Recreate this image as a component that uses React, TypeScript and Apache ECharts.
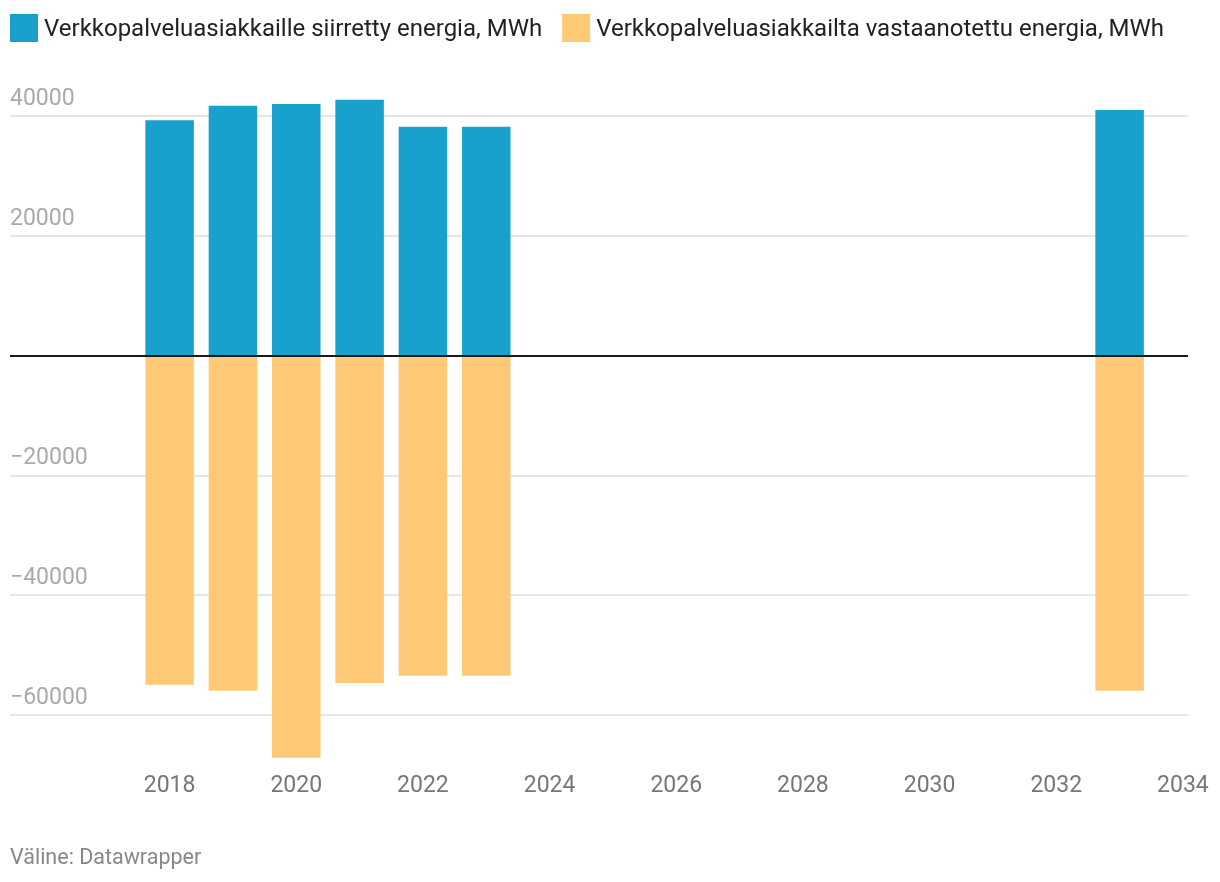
import React, { useEffect, useRef } from "react";
import * as echarts from "echarts";

const years = [2018, 2019, 2020, 2021, 2022, 2023, 2033];
const delivered = [39300, 41700, 42000, 42700, 38200, 38200, 41000];
const received = [-55000, -56000, -67200, -54700, -53500, -53500, -56000];
const xTicks = [2018, 2020, 2022, 2024, 2026, 2028, 2030, 2032, 2034];
const yTicks = [-60000, -40000, -20000, 20000, 40000];
const seriesNames = [
  "Verkkopalveluasiakkaille siirretty energia, MWh",
  "Verkkopalveluasiakkailta vastaanotettu energia, MWh",
];
const sourceText = "Väline: Datawrapper";

export default function App() {
  const ref = useRef<HTMLDivElement>(null);
  useEffect(() => {
    if (!ref.current) return;
    const chart = echarts.init(ref.current, null, { renderer: "svg" });
    const font = "Roboto";
    chart.setOption({
      animation: false,
      textStyle: { fontFamily: font },
      legend: {
        left: 10,
        top: 14,
        padding: 0,
        icon: "rect",
        itemWidth: 28,
        itemHeight: 28,
        itemGap: 20,
        textStyle: { fontFamily: font, fontSize: 24, color: "#222", padding: [0, 0, 0, 1] },
        data: seriesNames,
      },
      grid: { left: 10, right: 32, top: 86.1, bottom: 107.4, containLabel: false },
      xAxis: {
        type: "value",
        min: 2015.48,
        max: 2034.08,
        axisLine: { show: false },
        axisTick: { show: false, customValues: xTicks },
        splitLine: { show: false },
        axisLabel: {
          customValues: xTicks,
          fontFamily: font,
          fontSize: 23,
          color: "#777",
          margin: -2,
          verticalAlign: "top",
          formatter: (v: number) => String(v),
        },
      },
      yAxis: {
        type: "value",
        min: -70000,
        max: 45000,
        axisLine: { show: false },
        axisTick: { show: false, customValues: yTicks },
        splitLine: { show: true, lineStyle: { color: "#e6e6e6", width: 2 } },
        axisLabel: {
          customValues: yTicks,
          inside: true,
          margin: 0,
          fontFamily: font,
          fontSize: 23,
          color: "#aaa",
          verticalAlign: "bottom",
          padding: [0, 0, 7, 0],
          formatter: (v: number) => (v < 0 ? "\u2212" + Math.abs(v) : String(v)),
        },
      },
      series: [
        {
          name: seriesNames[0],
          type: "bar",
          barWidth: 48.5,
          barGap: "-100%",
          itemStyle: { color: "#18a1cd" },
          data: years.map((y, i) => [y, delivered[i]]),
        },
        {
          name: seriesNames[1],
          type: "bar",
          barWidth: 48.5,
          barGap: "-100%",
          itemStyle: { color: "#fdc977" },
          data: years.map((y, i) => [y, received[i]]),
          markLine: {
            silent: true,
            symbol: "none",
            label: { show: false },
            lineStyle: { color: "#1a1a1a", width: 2, type: "solid" },
            data: [{ yAxis: 0 }],
            z: 10,
          },
        },
      ],
      graphic: [
        {
          type: "text",
          left: 10,
          top: 845,
          style: { text: sourceText, fontFamily: font, fontSize: 21.5, fill: "#888" },
        },
      ],
    });
    return () => chart.dispose();
  }, []);
  return (
    <div
      ref={ref}
      style={{ position: "fixed", left: 0, top: 0, width: 1220, height: 882 }}
    />
  );
}
